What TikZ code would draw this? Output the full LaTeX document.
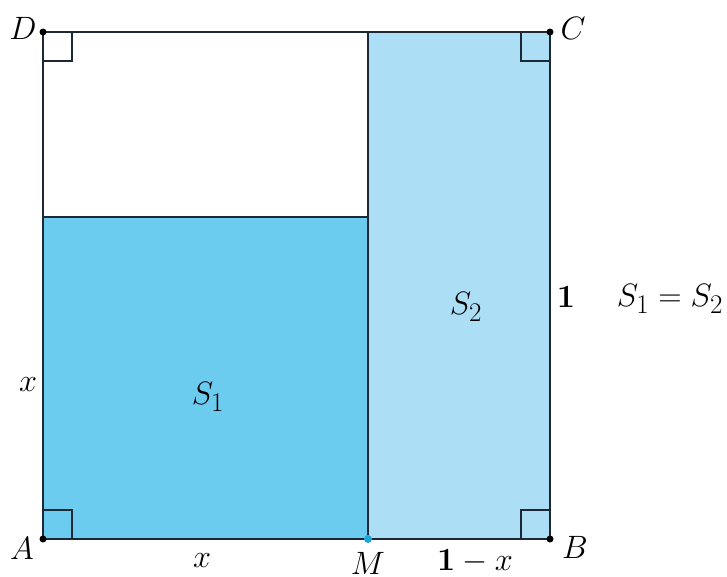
\documentclass[tikz,border=0pt]{standalone}
\usepackage{amsmath}
\usepackage{graphicx}
\definecolor{sone}{RGB}{108,204,240}
\definecolor{stwo}{RGB}{172,223,246}
\definecolor{edge}{RGB}{28,40,52}
\definecolor{mdot}{RGB}{30,165,220}
\newcommand\biglbl[1]{\scalebox{1.3}{$#1$}}
\begin{document}
\begin{tikzpicture}[x=1pt,y=-1pt,
  side/.style={draw=edge,line width=2pt},
  rangle/.style={draw=edge,line width=1.6pt},
  lab/.style={font=\fontsize{24.88}{30}\selectfont,inner sep=0pt},
  vertex/.style={circle,fill=black,inner sep=0pt,minimum size=7pt}]
\useasboundingbox (0,0) rectangle (727,576);
\coordinate (A) at (43,539);
\coordinate (B) at (550,539);
\coordinate (C) at (550,32);
\coordinate (D) at (43,32);
\coordinate (M) at (368,539);
\coordinate (P) at (43,217);
\coordinate (Q) at (368,217);
\coordinate (T) at (368,32);
\fill[sone] (A) rectangle (Q);
\fill[stwo] (M) rectangle (C);
\draw[side] (A) rectangle (C);
\draw[side] (P) -- (Q);
\draw[side] (T) -- (M);
% right angle marks
\draw[rangle] (43,510) -- (72,510) -- (72,539);
\draw[rangle] (72,32) -- (72,61) -- (43,61);
\draw[rangle] (521,32) -- (521,61) -- (550,61);
\draw[rangle] (521,539) -- (521,510) -- (550,510);
\node[vertex] (vA) at (A) {};
\node[vertex] (vB) at (B) {};
\node[vertex] (vC) at (C) {};
\node[vertex] (vD) at (D) {};
\node[circle,fill=mdot,inner sep=0pt,minimum size=8pt] (vM) at (M) {};
% labels
\node[lab] (lD) at (23,28) {\biglbl{D}};
\node[lab] (lC) at (573,28) {\biglbl{C}};
\node[lab] (lA) at (22,548) {\biglbl{A}};
\node[lab] (lB) at (575,547) {\biglbl{B}};
\node[lab] (lM) at (368,563) {\biglbl{M}};
\node[lab] (lx) at (202,561) {\biglbl{x}};
\node[lab] (l1x) at (475,561) {\biglbl{\mathbf{1}-x}};
\node[lab] (lxv) at (28,385) {\biglbl{x}};
\node[lab] (lS1) at (208,397) {\biglbl{S_1}};
\node[lab] (lS2) at (466,307) {\biglbl{S_2}};
\node[lab] (l1) at (566,297) {\biglbl{\mathbf{1}}};
\node[lab] (lEq) at (670,299) {\biglbl{S_1=S_2}};
\end{tikzpicture}
\end{document}
